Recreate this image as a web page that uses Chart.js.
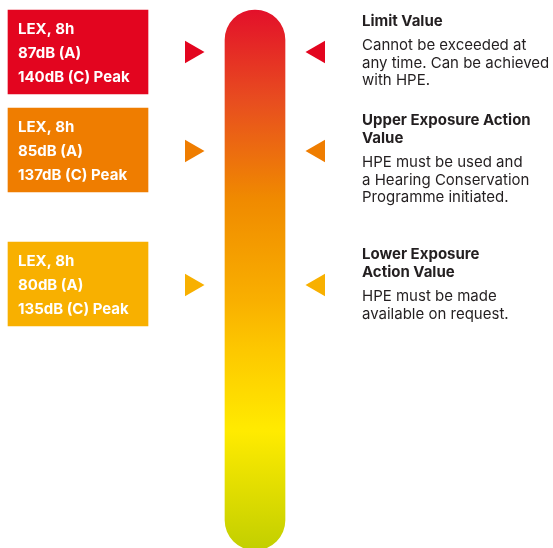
<!DOCTYPE html>
<html>
<head>
<meta charset="utf-8">
<script src="https://cdn.jsdelivr.net/npm/chart.js@4.4.1/dist/chart.umd.min.js"></script>
<style>
  html, body { margin: 0; padding: 0; background: #ffffff; }
  #wrap { width: 553px; height: 548px; position: relative; }
</style>
</head>
<body>
<div id="wrap"><canvas id="noiseChart" width="553" height="548"></canvas></div>
<script>
// Exposure levels (top to bottom)
const lexLabel = ['LEX, 8h', 'LEX, 8h', 'LEX, 8h'];
const dbA = [87, 85, 80];
const dbCPeak = [140, 137, 135];
const titleLines = [['Limit Value'], ['Upper Exposure Action', 'Value'], ['Lower Exposure', 'Action Value']];
const levelNotes = [
    ['Cannot be exceeded at', 'any time. Can be achieved', 'with HPE.'],
    ['HPE must be used and', 'a Hearing Conservation', 'Programme initiated.'],
    ['HPE must be made', 'available on request.']
];
const levelColors = ['#e3051f', '#ef7d00', '#f8b000'];

// layout (pixel frame of the picture)
const rowTop = [10, 108, 242];
const markerY = [52, 151, 285];
const boxHeight = 84;
const thermoRange = [10, 550];

const TEXT = '#231f20';
const FONT = 'Inter, "Noto Sans", sans-serif';

function thermoGradient(context) {
    const chart = context.chart;
    const y = chart.scales.y;
    if (!chart.chartArea) return '#ef7d00';
    const g = chart.ctx.createLinearGradient(0, y.getPixelForValue(thermoRange[0]), 0, y.getPixelForValue(thermoRange[1]));
    g.addColorStop(0, '#e3102a');
    g.addColorStop(0.17, '#e84e1f');
    g.addColorStop(0.35, '#f08a00');
    g.addColorStop(0.54, '#f9b000');
    g.addColorStop(0.63, '#fdc800');
    g.addColorStop(0.78, '#ffeb00');
    g.addColorStop(1, '#c2cf00');
    return g;
}

// text drawn next to the library's elements
const labelPlugin = {
    id: 'labelPlugin',
    afterDatasetsDraw(chart) {
        const ctx = chart.ctx;
        const boxes = chart.getDatasetMeta(1).data;
        const marks = chart.getDatasetMeta(3).data;
        ctx.save();
        ctx.textBaseline = 'alphabetic';
        ctx.textAlign = 'left';
        boxes.forEach((bar, i) => {
            const left = bar.x - bar.width / 2;
            const top = Math.min(bar.y, bar.base);
            ctx.fillStyle = '#ffffff';
            ctx.font = 'bold 15px ' + FONT;
            const lines = [lexLabel[i], dbA[i] + 'dB (A)', dbCPeak[i] + 'dB (C) Peak'];
            lines.forEach((t, k) => ctx.fillText(t, left + 10, top + 24 + k * 24));

            // description beside the right-hand marker
            ctx.fillStyle = TEXT;
            let yy = marks[i].y - 26;
            ctx.font = 'bold 15px ' + FONT;
            titleLines[i].forEach((t, k) => {
                if (k > 0) yy += 18;
                ctx.fillText(t, 362, yy);
            });
            yy += 24;
            ctx.font = '15px ' + FONT;
            levelNotes[i].forEach((t, k) => {
                if (k > 0) yy += 17.5;
                ctx.fillText(t, 362, yy);
            });
        });
        ctx.restore();
    }
};

const boxData = rowTop.map(t => ({ x: 78, y: [t, t + boxHeight] }));

new Chart(document.getElementById('noiseChart'), {
    type: 'bar',
    data: {
        datasets: [{
            label: 'Thermometer',
            data: [{ x: 255, y: thermoRange }],
            backgroundColor: thermoGradient,
            barThickness: 60,
            borderRadius: 30,
            borderSkipped: false,
            grouped: false
        }, {
            label: 'Levels',
            data: boxData,
            backgroundColor: levelColors,
            barThickness: 140,
            borderSkipped: false,
            grouped: false
        }, {
            type: 'scatter',
            label: 'Left markers',
            data: markerY.map(v => ({ x: 191.5, y: v })),
            pointStyle: 'triangle',
            rotation: 90,
            radius: 13,
            hoverRadius: 13,
            backgroundColor: levelColors,
            borderWidth: 0
        }, {
            type: 'scatter',
            label: 'Right markers',
            data: markerY.map(v => ({ x: 318.5, y: v })),
            pointStyle: 'triangle',
            rotation: -90,
            radius: 13,
            hoverRadius: 13,
            backgroundColor: levelColors,
            borderWidth: 0
        }]
    },
    options: {
        responsive: false,
        animation: false,
        layout: { padding: 0, autoPadding: false },
        plugins: {
            legend: { display: false },
            tooltip: { enabled: false },
            title: { display: false }
        },
        scales: {
            x: { type: 'linear', min: 0, max: 553, offset: false, display: false },
            y: { type: 'linear', min: 0, max: 548, reverse: true, offset: false, display: false }
        }
    },
    plugins: [labelPlugin]
});
</script>
</body>
</html>
